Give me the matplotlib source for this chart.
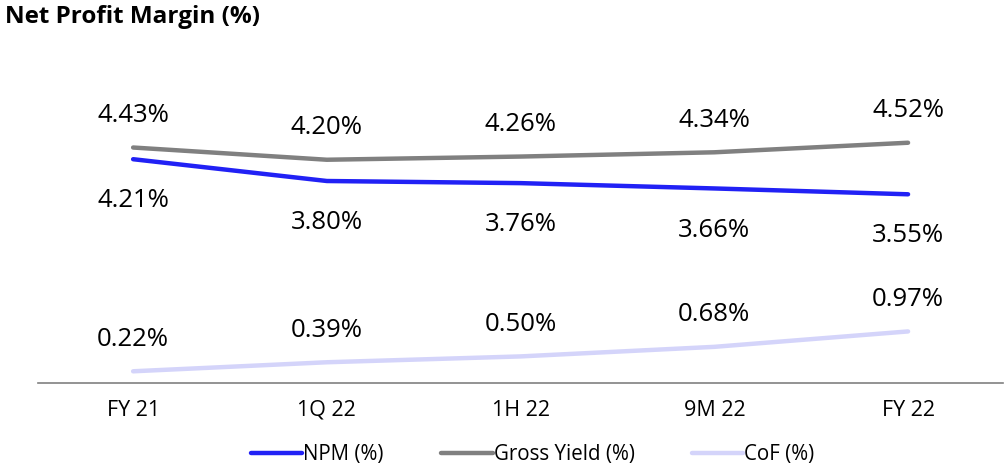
import matplotlib
matplotlib.use("Agg")
import matplotlib.pyplot as plt

plt.rcParams['font.family'] = ['Open Sans', 'DejaVu Sans']

periods = ["FY 21", "1Q 22", "1H 22", "9M 22", "FY 22"]
npm = [4.21, 3.80, 3.76, 3.66, 3.55]
gross_yield = [4.43, 4.20, 4.26, 4.34, 4.52]
cof = [0.22, 0.39, 0.50, 0.68, 0.97]

fig = plt.figure(figsize=(10.05, 4.69), dpi=100)
ax = fig.add_axes([0.038, 0.1834, 0.96, 0.68])

x = range(len(periods))
ax.plot(x, npm, color='#2121F5', lw=3.2, solid_capstyle='round', label='NPM (%)')
ax.plot(x, gross_yield, color='#808080', lw=3.2, solid_capstyle='round', label='Gross Yield (%)')
ax.plot(x, cof, color='#D4D4FA', lw=3.2, solid_capstyle='round', label='CoF (%)')

for i in x:
    ax.annotate(f"{gross_yield[i]:.2f}%", (i, gross_yield[i]), xytext=(0, 23),
                textcoords='offset points', ha='center', va='center', fontsize=18.5)
    ax.annotate(f"{npm[i]:.2f}%", (i, npm[i]), xytext=(0, -30),
                textcoords='offset points', ha='center', va='center', fontsize=18.5)
    ax.annotate(f"{cof[i]:.2f}%", (i, cof[i]), xytext=(0, 23),
                textcoords='offset points', ha='center', va='center', fontsize=18.5)

ax.set_xlim(-0.49, 4.49)
ax.set_ylim(0, 6)
ax.set_xticks(list(x))
ax.set_xticklabels(periods, fontsize=15.5)
ax.set_yticks([])
for s in ['top', 'right', 'left']:
    ax.spines[s].set_visible(False)
ax.spines['bottom'].set_color('#808080')
ax.spines['bottom'].set_linewidth(1.2)
ax.tick_params(axis='x', length=0, pad=12)

fig.text(0.005, 0.963, "Net Profit Margin (%)", fontsize=17.5, fontweight='bold', va='center')

fig.legend(loc='center', bbox_to_anchor=(0.53, 0.03), ncol=3, frameon=False,
           fontsize=14.8, handlelength=2.5, handletextpad=0.05, columnspacing=2.8)

fig.savefig('out.png', dpi=100)
